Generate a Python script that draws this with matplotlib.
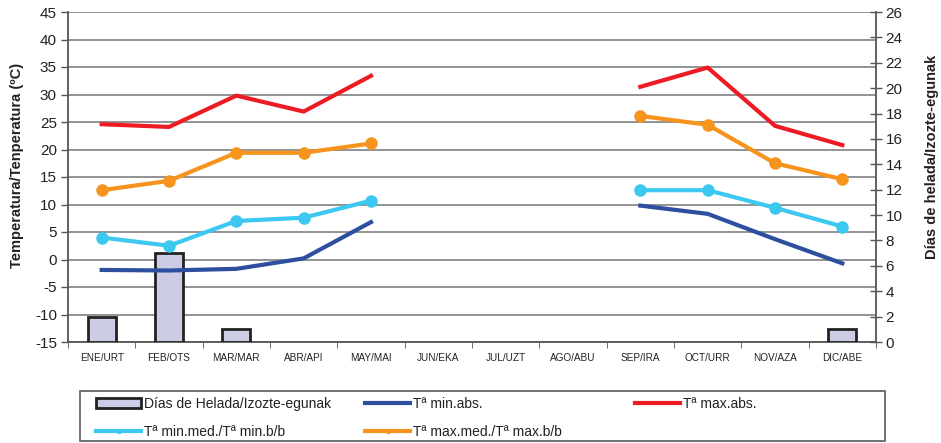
import numpy as np
import matplotlib
matplotlib.use("Agg")
import matplotlib.pyplot as plt
from matplotlib.ticker import FixedLocator, MultipleLocator
from matplotlib.patches import Rectangle

plt.rcParams['font.family'] = ['Liberation Sans', 'DejaVu Sans']
plt.rcParams['axes.unicode_minus'] = False

months = ["ENE/URT", "FEB/OTS", "MAR/MAR", "ABR/API", "MAY/MAI", "JUN/EKA",
          "JUL/UZT", "AGO/ABU", "SEP/IRA", "OCT/URR", "NOV/AZA", "DIC/ABE"]
nan = np.nan
frost_days = [2, 7, 1, 0, 0, 0, 0, 0, 0, 0, 0, 1]
t_min_abs = [-1.9, -2.0, -1.7, 0.2, 6.8, nan, nan, nan, 9.8, 8.3, 3.7, -0.7]
t_max_abs = [24.6, 24.1, 29.8, 26.9, 33.4, nan, nan, nan, 31.4, 34.9, 24.3, 20.8]
t_min_med = [4.0, 2.5, 7.0, 7.6, 10.7, nan, nan, nan, 12.6, 12.6, 9.4, 6.0]
t_max_med = [12.6, 14.3, 19.4, 19.4, 21.1, nan, nan, nan, 26.1, 24.5, 17.5, 14.6]

W, H = 941, 443
x = np.arange(len(months))
fig = plt.figure(figsize=(W/100, H/100), dpi=100)
pos = [68/W, 1-342/H, (876-68)/W, (342-12)/H]

ax = fig.add_axes(pos)
ax.set_ylim(-15, 45)
ax.set_xlim(-0.5, 11.5)
ax.yaxis.set_major_locator(MultipleLocator(5))
ax.grid(axis='y', color='#8a8a8a', linewidth=1.3)
ax.set_axisbelow(True)
for s in ['top', 'right']:
    ax.spines[s].set_visible(False)
for s in ['left', 'bottom']:
    ax.spines[s].set_color('#555555')
    ax.spines[s].set_linewidth(1.3)
ax.tick_params(axis='y', direction='out', length=5, width=1, color='#555555',
               labelsize=11, labelcolor='#222222', pad=3)
ax.set_xticks(x)
ax.set_xticklabels(months, fontsize=7.2, color='#222222')
ax.tick_params(axis='x', which='major', length=0, pad=8)
ax.xaxis.set_minor_locator(FixedLocator(np.arange(-0.5, 12, 1)))
ax.tick_params(axis='x', which='minor', direction='out', length=4, color='#555555')
ax.set_ylabel("Temperatura/Tenperatura (ºC)", fontsize=10.5, fontweight='bold',
              color='#222222')
ax.yaxis.set_label_coords((24-68)/808, (342-165)/330)

ax2 = ax.twinx()
ax2.set_ylim(0, 26)
ax2.yaxis.set_major_locator(MultipleLocator(2))
bx = [xi for xi, v in zip(x, frost_days) if v > 0]
bv = [v for v in frost_days if v > 0]
bars = ax2.bar(bx, bv, width=0.42, color='#cccce6', edgecolor='#222222',
               linewidth=2, label='Días de Helada/Izozte-egunak')
for s in ['top', 'left', 'bottom']:
    ax2.spines[s].set_visible(False)
ax2.spines['right'].set_color('#555555')
ax2.spines['right'].set_linewidth(1.3)
ax2.tick_params(axis='y', direction='inout', length=8, width=1, color='#555555',
                labelsize=11, labelcolor='#222222', pad=3)
ax2.set_ylabel("Días de helada/Izozte-egunak", fontsize=10.5, fontweight='bold',
               color='#222222')
ax2.yaxis.set_label_coords((925-68)/808, (342-157)/330)

ax3 = ax.twinx()
ax3.set_ylim(-15, 45)
ax3.axis('off')
l_min_med, = ax3.plot(x, t_min_med, color='#3cc8f0', lw=3, marker='o', ms=8,
                      label='Tª min.med./Tª min.b/b')
l_min_abs, = ax3.plot(x, t_min_abs, color='#2e4f9f', lw=3,
                      label='Tª min.abs.')
l_max_med, = ax3.plot(x, t_max_med, color='#f7941d', lw=3, marker='o', ms=8,
                      label='Tª max.med./Tª max.b/b')
l_max_abs, = ax3.plot(x, t_max_abs, color='#ed1c24', lw=3,
                      label='Tª max.abs.')

# legend frame
fig.patches.append(Rectangle((80/W, 1-441/H), (885-80)/W, (441-391)/H,
                             transform=fig.transFigure, fill=False,
                             edgecolor='#666666', linewidth=1.3))

fs = 10
hl = 45/(fs*100/72)
common = dict(loc='upper left', fontsize=fs, frameon=False, handlelength=hl,
              handletextpad=0.2, borderpad=0, borderaxespad=0,
              labelspacing=1.02, markerscale=0.35)
cols = [([bars, l_min_med], 96), ([l_min_abs, l_max_med], 365), ([l_max_abs], 635)]
for hs, xs in cols:
    lg = fig.legend(hs, [h.get_label() for h in hs],
                    bbox_to_anchor=(xs/W, 1-397/H), **common)
    for t in lg.get_texts():
        t.set_color('#222222')

fig.savefig("out.png", dpi=100)
